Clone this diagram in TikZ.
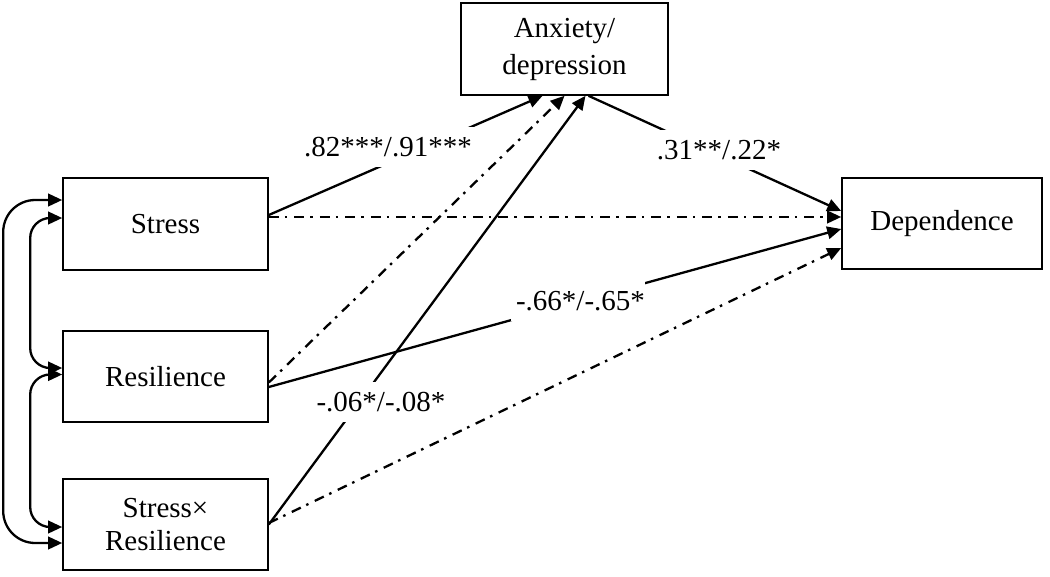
\documentclass[tikz,border=0pt]{standalone}
\usepackage{fontspec}
\setmainfont{Liberation Serif}
\usetikzlibrary{arrows.meta,calc}
\tikzset{
  box/.style={draw, line width=1.6pt, inner sep=0pt, align=center, font=\fontsize{29}{33}\selectfont},
  lab/.style={fill=white, inner xsep=5pt, inner ysep=10pt, font=\fontsize{29}{33}\selectfont},
  tip/.tip={Triangle[length=14pt,width=12.5pt]},
  conn/.style={line width=2.3pt, -tip},
  dd/.style={conn, dash pattern=on 10pt off 6pt on 2.5pt off 7pt},
  dbl/.style={line width=2.3pt, tip-tip}
}
\begin{document}
\begin{tikzpicture}[x=1pt,y=-1pt]
\useasboundingbox (0,0) rectangle (1050,576);
\node[box, minimum width=205pt, minimum height=92pt] (stress) at (165.5,224) {Stress};
\node[box, minimum width=205pt, minimum height=91pt] (res) at (165.5,376.5) {Resilience};
\node[box, minimum width=205pt, minimum height=91pt] (sxr) at (165.5,524.5) {Stress×\\Resilience};
\node[box, minimum width=207pt, minimum height=92pt, font=\fontsize{29}{37}\selectfont] (anx) at (564.5,49) {Anxiety/\\depression};
\node[box, minimum width=200pt, minimum height=91pt] (dep) at (942,223.5) {Dependence};
% left correlations
\draw[dbl, rounded corners=32pt] ([yshift=24pt]stress.west) -- ++(-59pt,0) |- ([yshift=-18.5pt]sxr.west);
\draw[dbl, rounded corners=20pt] ([yshift=6pt]stress.west) -- ++(-32pt,0) |- ([yshift=8.5pt]res.west);
\draw[dbl, rounded corners=20pt] ([yshift=2pt]res.west) -- ++(-32pt,0) |- ([yshift=-2.5pt]sxr.west);
% paths
\draw[conn] ([yshift=9pt]stress.east) -- ([xshift=-22pt]anx.south);
\draw[dd] ([yshift=7pt]stress.east) -- ([yshift=6.5pt]dep.west);
\draw[conn] ([xshift=24pt]anx.south) -- ([yshift=12.5pt]dep.west);
\draw[dd] ([yshift=-6pt]res.east) -- ([xshift=0pt]anx.south);
\draw[conn] ([yshift=-10.5pt]res.east) -- ([yshift=-5.5pt]dep.west);
\draw[conn] (sxr.east) -- ([xshift=21pt]anx.south);
\draw[dd] ([yshift=1.5pt]sxr.east) -- ([yshift=-24.5pt]dep.west);
% labels
\node[lab] (l1) at (388,147) {.82***/.91***};
\node[lab] (l2) at (719,150) {.31**/.22*};
\node[lab, inner xsep=0pt] (l3) at (578,301) {\hspace{5pt}-.66*/-.65*\hspace{20pt}};
\node[lab] (l4) at (381,402) {-.06*/-.08*};
\end{tikzpicture}
\end{document}
